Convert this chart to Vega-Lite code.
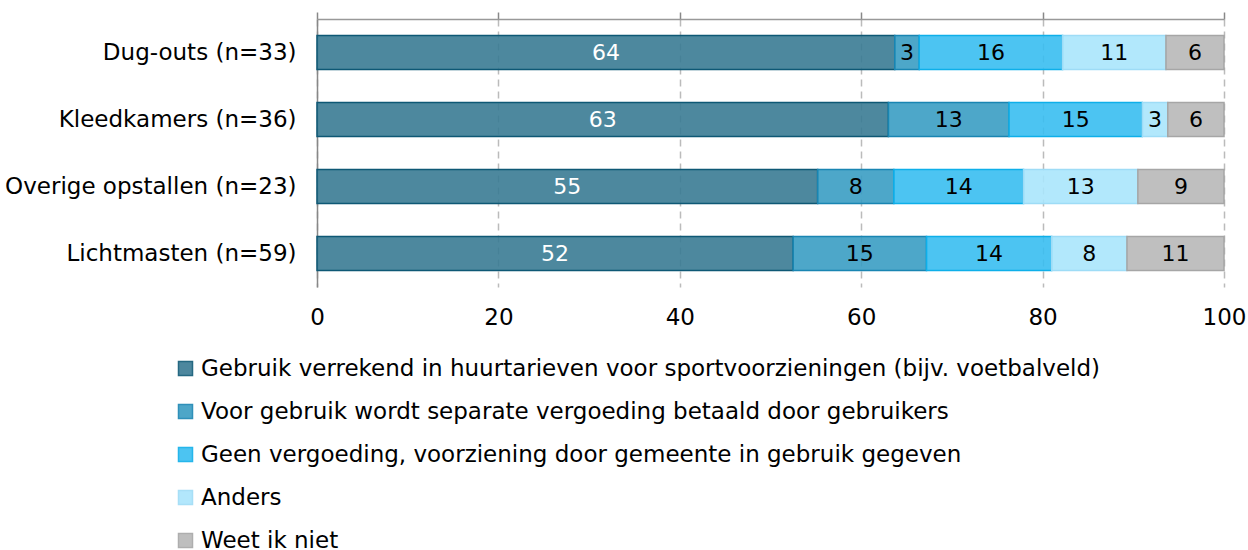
{
  "$schema": "https://vega.github.io/schema/vega-lite/v6.json",
  "width": 907,
  "height": 268,
  "autosize": {"type": "none"},
  "padding": {"left": 317, "top": 19, "right": 24, "bottom": 263},
  "background": "white",
  "config": {
    "font": "DejaVu Sans",
    "view": {"stroke": null}
  },
  "data": {
    "values": [
      {"item": "Dug-outs (n=33)", "cat": "Gebruik verrekend in huurtarieven voor sportvoorzieningen (bijv. voetbalveld)", "k": 1, "value": 63.7, "label": "64"},
      {"item": "Dug-outs (n=33)", "cat": "Voor gebruik wordt separate vergoeding betaald door gebruikers", "k": 2, "value": 2.7, "label": "3"},
      {"item": "Dug-outs (n=33)", "cat": "Geen vergoeding, voorziening door gemeente in gebruik gegeven", "k": 3, "value": 15.8, "label": "16"},
      {"item": "Dug-outs (n=33)", "cat": "Anders", "k": 4, "value": 11.4, "label": "11"},
      {"item": "Dug-outs (n=33)", "cat": "Weet ik niet", "k": 5, "value": 6.4, "label": "6"},
      {"item": "Kleedkamers (n=36)", "cat": "Gebruik verrekend in huurtarieven voor sportvoorzieningen (bijv. voetbalveld)", "k": 1, "value": 63.0, "label": "63"},
      {"item": "Kleedkamers (n=36)", "cat": "Voor gebruik wordt separate vergoeding betaald door gebruikers", "k": 2, "value": 13.3, "label": "13"},
      {"item": "Kleedkamers (n=36)", "cat": "Geen vergoeding, voorziening door gemeente in gebruik gegeven", "k": 3, "value": 14.7, "label": "15"},
      {"item": "Kleedkamers (n=36)", "cat": "Anders", "k": 4, "value": 2.8, "label": "3"},
      {"item": "Kleedkamers (n=36)", "cat": "Weet ik niet", "k": 5, "value": 6.2, "label": "6"},
      {"item": "Overige opstallen (n=23)", "cat": "Gebruik verrekend in huurtarieven voor sportvoorzieningen (bijv. voetbalveld)", "k": 1, "value": 55.2, "label": "55"},
      {"item": "Overige opstallen (n=23)", "cat": "Voor gebruik wordt separate vergoeding betaald door gebruikers", "k": 2, "value": 8.4, "label": "8"},
      {"item": "Overige opstallen (n=23)", "cat": "Geen vergoeding, voorziening door gemeente in gebruik gegeven", "k": 3, "value": 14.3, "label": "14"},
      {"item": "Overige opstallen (n=23)", "cat": "Anders", "k": 4, "value": 12.6, "label": "13"},
      {"item": "Overige opstallen (n=23)", "cat": "Weet ik niet", "k": 5, "value": 9.5, "label": "9"},
      {"item": "Lichtmasten (n=59)", "cat": "Gebruik verrekend in huurtarieven voor sportvoorzieningen (bijv. voetbalveld)", "k": 1, "value": 52.5, "label": "52"},
      {"item": "Lichtmasten (n=59)", "cat": "Voor gebruik wordt separate vergoeding betaald door gebruikers", "k": 2, "value": 14.7, "label": "15"},
      {"item": "Lichtmasten (n=59)", "cat": "Geen vergoeding, voorziening door gemeente in gebruik gegeven", "k": 3, "value": 13.8, "label": "14"},
      {"item": "Lichtmasten (n=59)", "cat": "Anders", "k": 4, "value": 8.3, "label": "8"},
      {"item": "Lichtmasten (n=59)", "cat": "Weet ik niet", "k": 5, "value": 10.7, "label": "11"}
    ]
  },
  "encoding": {
    "y": {
      "field": "item", "type": "nominal",
      "sort": ["Dug-outs (n=33)", "Kleedkamers (n=36)", "Overige opstallen (n=23)", "Lichtmasten (n=59)"],
      "scale": {"paddingInner": 0.49, "paddingOuter": 0.245},
      "title": null,
      "axis": {
        "domainColor": "#888888", "domainWidth": 1.5, "ticks": false,
        "labelFontSize": 23, "labelColor": "#000000", "labelPadding": 21,
        "labelFont": "DejaVu Sans", "labelLimit": 400
      }
    },
    "order": {"field": "k", "type": "quantitative"}
  },
  "layer": [
    {
      "mark": {"type": "bar", "strokeWidth": 1.5, "fillOpacity": 0.9},
      "encoding": {
        "x": {
          "field": "value", "type": "quantitative", "stack": "zero",
          "scale": {"domain": [0, 100], "nice": false},
          "axis": {
            "orient": "top", "title": null, "labels": false,
            "values": [0, 20, 40, 60, 80, 100],
            "domainColor": "#999999", "domainWidth": 1.5,
            "tickColor": "#888888", "tickSize": 7, "tickWidth": 1.5,
            "grid": true, "gridColor": "#bbbbbb", "gridDash": [7, 5], "gridWidth": 1.5
          }
        },
        "color": {
          "field": "cat", "type": "nominal",
          "sort": ["Gebruik verrekend in huurtarieven voor sportvoorzieningen (bijv. voetbalveld)", "Voor gebruik wordt separate vergoeding betaald door gebruikers", "Geen vergoeding, voorziening door gemeente in gebruik gegeven", "Anders", "Weet ik niet"],
          "scale": {
            "domain": ["Gebruik verrekend in huurtarieven voor sportvoorzieningen (bijv. voetbalveld)", "Voor gebruik wordt separate vergoeding betaald door gebruikers", "Geen vergoeding, voorziening door gemeente in gebruik gegeven", "Anders", "Weet ik niet"],
            "range": ["#3a7b94", "#3a9dc3", "#39bef1", "#aae5fc", "#b8b8b8"]
          },
          "legend": {
            "orient": "none", "legendX": -143, "legendY": 338, "title": null,
            "symbolType": "square", "symbolSize": 196, "symbolStrokeWidth": 1.5,
            "labelFontSize": 23, "labelColor": "#000000", "labelFont": "DejaVu Sans",
            "rowPadding": 19, "labelOffset": 4, "labelLimit": 1100, "symbolOpacity": 0.9
          }
        },
        "stroke": {
          "field": "cat", "type": "nominal",
          "sort": ["Gebruik verrekend in huurtarieven voor sportvoorzieningen (bijv. voetbalveld)", "Voor gebruik wordt separate vergoeding betaald door gebruikers", "Geen vergoeding, voorziening door gemeente in gebruik gegeven", "Anders", "Weet ik niet"],
          "scale": {
            "domain": ["Gebruik verrekend in huurtarieven voor sportvoorzieningen (bijv. voetbalveld)", "Voor gebruik wordt separate vergoeding betaald door gebruikers", "Geen vergoeding, voorziening door gemeente in gebruik gegeven", "Anders", "Weet ik niet"],
            "range": ["#0e5875", "#1985b2", "#0eafe9", "#9edcf6", "#a6a6a6"]
          },
          "legend": {
            "orient": "none", "legendX": -143, "legendY": 338, "title": null,
            "symbolType": "square", "symbolSize": 196, "symbolStrokeWidth": 1.5,
            "labelFontSize": 23, "labelColor": "#000000", "labelFont": "DejaVu Sans",
            "rowPadding": 19, "labelOffset": 4, "labelLimit": 1100, "symbolOpacity": 0.9
          }
        }
      }
    },
    {
      "mark": {"type": "text", "fontSize": 22, "font": "DejaVu Sans", "baseline": "middle", "align": "center"},
      "encoding": {
        "x": {
          "field": "value", "type": "quantitative", "stack": "zero", "bandPosition": 0.5,
          "axis": {
            "orient": "bottom", "title": null, "domain": false, "ticks": false, "grid": false,
            "values": [0, 20, 40, 60, 80, 100],
            "labelFontSize": 23, "labelColor": "#000000", "labelPadding": 19, "labelFont": "DejaVu Sans",
            "labelFlush": false
          }
        },
        "text": {"field": "label", "type": "nominal"},
        "color": {
          "condition": {"test": "datum.k == 1", "value": "#ffffff"},
          "value": "#000000"
        }
      }
    }
  ],
  "resolve": {"axis": {"x": "independent"}}
}
